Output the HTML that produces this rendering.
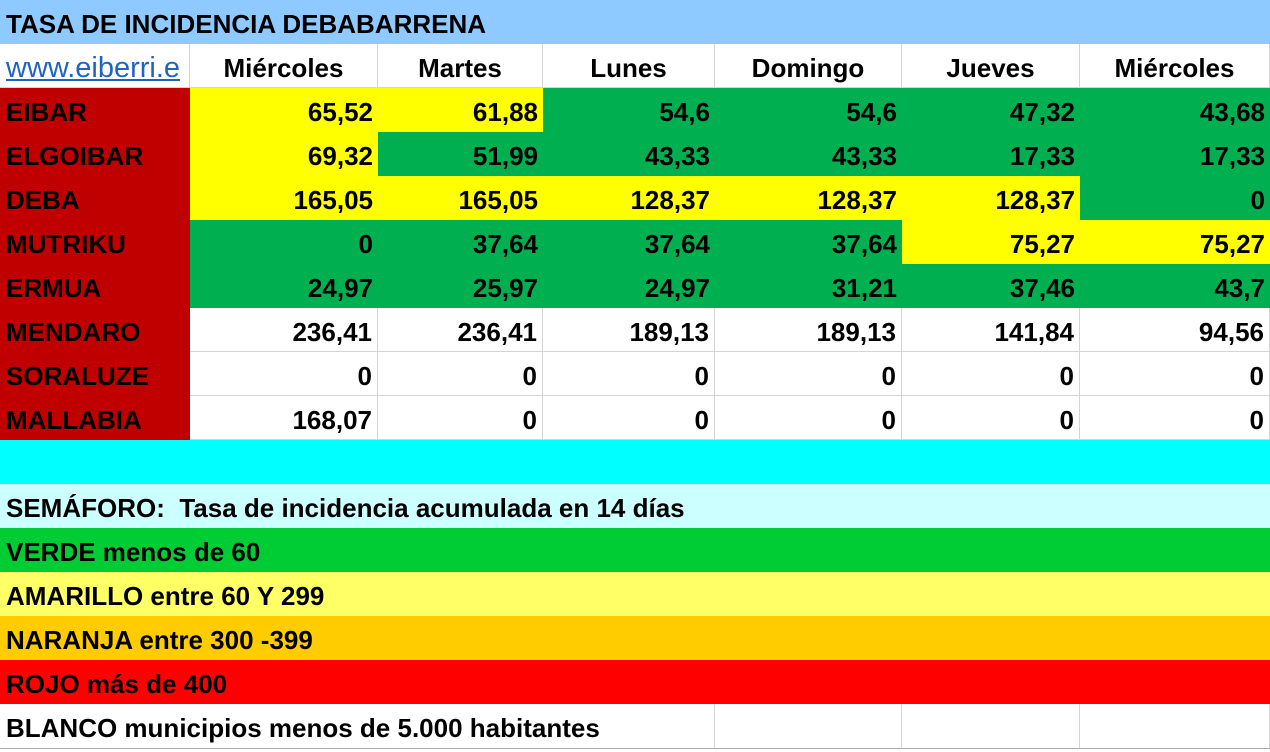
<!DOCTYPE html>
<html><head><meta charset="utf-8"><style>
body{margin:0;width:1270px;height:749px;overflow:hidden;background:#fff;font-family:"Liberation Sans",Arial,sans-serif;font-weight:bold;font-size:26px;color:#000}
.c{position:absolute;height:44px;line-height:48px;box-sizing:border-box;white-space:nowrap;overflow:hidden}
.r{text-align:right;padding-right:5px}
.m{text-align:center}
.l{padding-left:6px}
.g{border-right:1px solid #d4d4d4;border-bottom:1px solid #d4d4d4}
</style></head><body>
<div class="c l" style="left:0;top:0;width:1270px;background:#8ECAFF">TASA DE INCIDENCIA DEBABARRENA</div>
<div class="c l g" style="left:0;top:44px;width:190px;font-weight:normal;font-size:29px;color:#1F64C0;"><span style="text-decoration:underline">www.eiberri.e</span></div>
<div class="c m g" style="left:190px;top:44px;width:188px">Miércoles</div>
<div class="c m g" style="left:378px;top:44px;width:165px">Martes</div>
<div class="c m g" style="left:543px;top:44px;width:172px">Lunes</div>
<div class="c m g" style="left:715px;top:44px;width:187px">Domingo</div>
<div class="c m g" style="left:902px;top:44px;width:178px">Jueves</div>
<div class="c m g" style="left:1080px;top:44px;width:190px">Miércoles</div>
<div id="rows"></div>
<div class="c" style="left:0;top:440px;width:1270px;background:#00FFFF"></div>
<div class="c l" style="left:0;top:484px;width:1270px;background:#CCFFFF">SEMÁFORO:&nbsp; Tasa de incidencia acumulada en 14 días</div>
<div class="c l" style="left:0;top:528px;width:1270px;background:#00CC33">VERDE menos de 60</div>
<div class="c l" style="left:0;top:572px;width:1270px;background:#FFFF66">AMARILLO entre 60 Y 299</div>
<div class="c l" style="left:0;top:616px;width:1270px;background:#FFCC00">NARANJA entre 300 -399</div>
<div class="c l" style="left:0;top:660px;width:1270px;background:#FF0000">ROJO más de 400</div>
<div class="c g" style="left:714px;top:704px;width:188px;height:45px;border-left:1px solid #d4d4d4;border-bottom-color:#aaa"></div>
<div class="c g" style="left:902px;top:704px;width:178px;height:45px;border-bottom-color:#aaa"></div>
<div class="c g" style="left:1080px;top:704px;width:190px;height:45px;border-bottom-color:#aaa"></div>
<div class="c" style="left:0;top:748px;width:715px;height:1px;background:#aaa"></div>
<div class="c l" style="left:0;top:704px;width:700px;height:44px;background:transparent;overflow:visible">BLANCO municipios menos de 5.000 habitantes</div>
<script>
var X=[190,378,543,715,902,1080,1270];
var Y="#FFFF00",G="#00B050",W="#fff";
var d=[["EIBAR",["65,52","61,88","54,6","54,6","47,32","43,68"],[Y,Y,G,G,G,G]],
["ELGOIBAR",["69,32","51,99","43,33","43,33","17,33","17,33"],[Y,G,G,G,G,G]],
["DEBA",["165,05","165,05","128,37","128,37","128,37","0"],[Y,Y,Y,Y,Y,G]],
["MUTRIKU",["0","37,64","37,64","37,64","75,27","75,27"],[G,G,G,G,Y,Y]],
["ERMUA",["24,97","25,97","24,97","31,21","37,46","43,7"],[G,G,G,G,G,G]],
["MENDARO",["236,41","236,41","189,13","189,13","141,84","94,56"],[W,W,W,W,W,W]],
["SORALUZE",["0","0","0","0","0","0"],[W,W,W,W,W,W]],
["MALLABIA",["168,07","0","0","0","0","0"],[W,W,W,W,W,W]]];
var h="";
d.forEach(function(r,i){var t=88+i*44;
h+='<div class="c l" style="left:0;top:'+t+'px;width:190px;background:#C00000">'+r[0]+'</div>';
for(var j=0;j<6;j++){var w=r[2][j]==W;
h+='<div class="c r'+(w?' g':'')+'" style="left:'+X[j]+'px;top:'+t+'px;width:'+(X[j+1]-X[j])+'px;background:'+r[2][j]+'">'+r[1][j]+'</div>';}
});
document.getElementById("rows").innerHTML=h;
</script>
</body></html>
